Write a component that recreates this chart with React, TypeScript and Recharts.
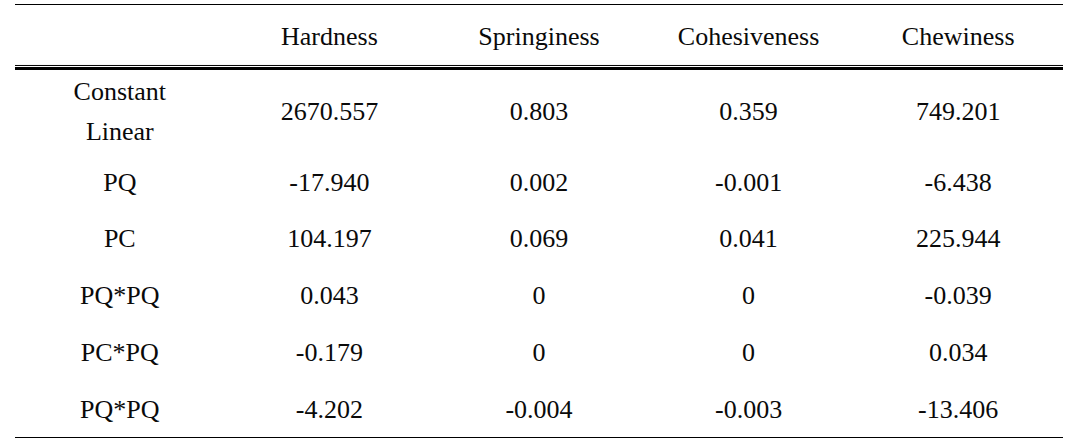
import React from 'react'
import { ScatterChart, Scatter, XAxis, YAxis, ReferenceLine } from 'recharts'

const columns = ['label', 'Hardness', 'Springiness', 'Cohesiveness', 'Chewiness']
const rowLabels = ['Constant\nLinear', 'PQ', 'PC', 'PQ*PQ', 'PC*PQ', 'PQ*PQ']
const hardness = [2670.557, -17.94, 104.197, 0.043, -0.179, -4.202]
const springiness = [0.803, 0.002, 0.069, 0, 0, -0.004]
const cohesiveness = [0.359, -0.001, 0.041, 0, 0, -0.003]
const chewiness = [749.201, -6.438, 225.944, -0.039, 0.034, -13.406]

const HEADER = 1.127
const FONT = '"Liberation Serif", "Times New Roman", serif'

const fmt = (v: number) => (v === 0 ? '0' : v.toFixed(3))

// row heights: a two-line label gets one and a half rows
const weights = rowLabels.map(l => (l.includes('\n') ? 1.5 : 1))
const TOTAL = weights.reduce((a, b) => a + b, 0)
const centers = weights.map((w, i) => weights.slice(0, i).reduce((a, b) => a + b, 0) + w / 2)

const series = [hardness, springiness, cohesiveness, chewiness]
const cells: any[] = []
columns.forEach(c => cells.push({ col: c, y: -HEADER / 2, text: c === 'label' ? '' : c }))
rowLabels.forEach((label, i) => {
  cells.push({ col: 'label', y: centers[i], text: label })
  series.forEach((s, j) => cells.push({ col: columns[j + 1], y: centers[i], text: fmt(s[i]) }))
})

const Cell = (props: any) => {
  const { cx, cy, payload } = props
  const lines = String(payload.text).split('\n')
  const gap = 40
  return (
    <text textAnchor="middle" fontFamily={FONT} fontSize={26} fill="#0a0a0a">
      {lines.map((l, k) => (
        <tspan key={k} x={cx} y={cy + (k - (lines.length - 1) / 2) * gap} dominantBaseline="central">
          {l}
        </tspan>
      ))}
    </text>
  )
}

export default function App() {
  return (
    <div style={{ position: 'absolute', left: 0, top: 0, background: '#fff' }}>
      <ScatterChart width={1082} height={445} margin={{ top: 4.5, right: 19, bottom: 7.5, left: 15 }}>
        <XAxis type="category" dataKey="col" allowDuplicatedCategory={false} hide />
        <YAxis type="number" dataKey="y" domain={[-HEADER, TOTAL]} reversed hide />
        <ReferenceLine y={-HEADER} stroke="#000" strokeWidth={1} />
        <ReferenceLine y={-0.053} stroke="#000" strokeWidth={1} />
        <ReferenceLine y={0} stroke="#000" strokeWidth={3} />
        <ReferenceLine y={TOTAL} stroke="#000" strokeWidth={1} />
        <Scatter data={cells} shape={Cell} isAnimationActive={false} />
      </ScatterChart>
    </div>
  )
}
